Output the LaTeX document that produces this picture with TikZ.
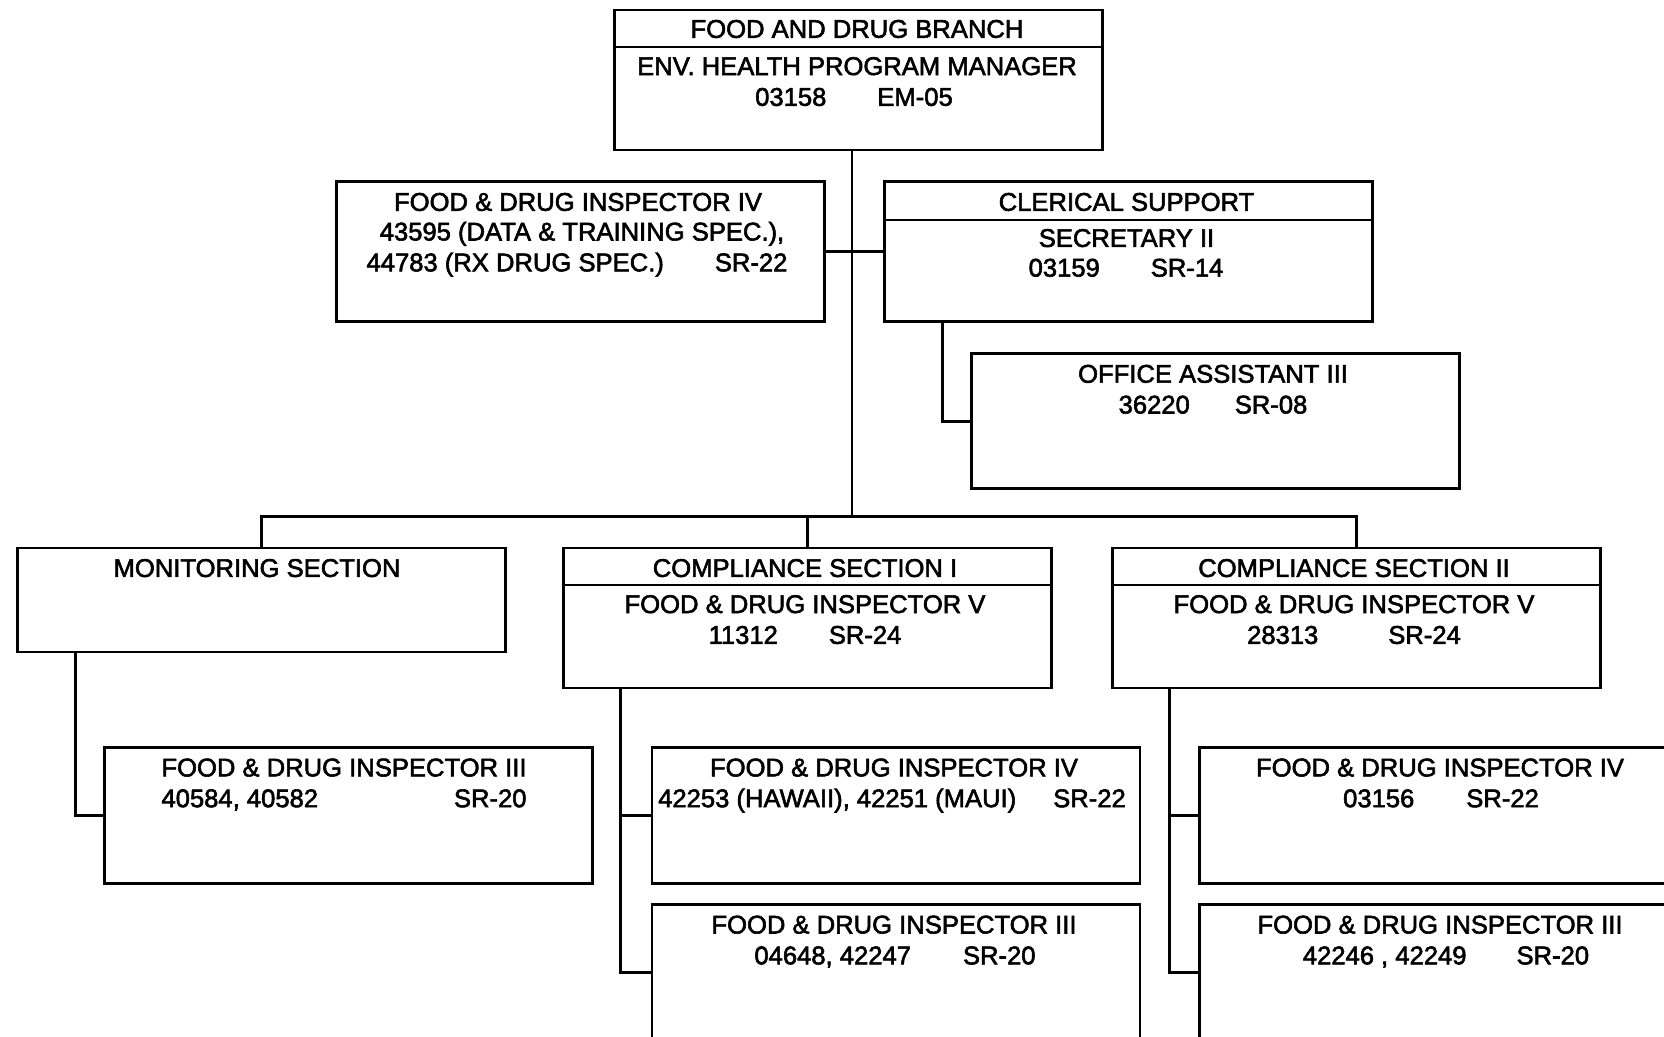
\documentclass[tikz,border=0pt]{standalone}
\usepackage{fontspec}
\setmainfont{Liberation Sans}[FakeBold=2.2]
\begin{document}
\begin{tikzpicture}[x=1pt,y=-1pt,
  box/.style={draw, line width=2.8pt, rectangle, inner sep=0pt, anchor=north west, minimum width=488pt},
  conn/.style={line width=2.8pt},
  divline/.style={line width=1.6pt},
  lbl/.style={anchor=base, inner sep=0pt, font=\fontsize{25.6}{30.6}\selectfont}]
\useasboundingbox (0,0) rectangle (1664,1036);
\fill[white] (0,0) rectangle (1664,1036);
\clip (0,0) rectangle (1664,1036);

% boxes
\node[box, minimum height=140pt] (top)    at (613,8.5) {};
\node[box, minimum height=140pt] (fdiA)   at (335.3,180.4) {};
\node[box, minimum height=140pt] (clerk)  at (883,180.4) {};
\node[box, minimum height=135pt] (office) at (970,352.3) {};
\node[box, minimum height=104pt] (mon)    at (15.9,546.5) {};
\node[box, minimum height=140pt] (cp1)    at (562.4,546.5) {};
\node[box, minimum height=140pt] (cp2)    at (1111,546.5) {};
\node[box, minimum height=136pt] (mon3)   at (102.9,746) {};
\node[box, minimum height=136pt] (c1a)    at (650.5,746) {};
\node[box, minimum height=136pt] (c1b)    at (650.5,903.1) {};
\node[box, minimum height=136pt] (c2a)    at (1198.1,746) {};
\node[box, minimum height=136pt] (c2b)    at (1198.1,903.1) {};

% header dividers
\draw[divline] ([yshift=-38.2pt]top.north west) -- ([yshift=-38.2pt]top.north east);
\draw[divline] ([yshift=-39.3pt]clerk.north west) -- ([yshift=-39.3pt]clerk.north east);
\draw[divline] ([yshift=-38.2pt]cp1.north west) -- ([yshift=-38.2pt]cp1.north east);
\draw[divline] ([yshift=-38.2pt]cp2.north west) -- ([yshift=-38.2pt]cp2.north east);

% connectors
\coordinate (bus) at (852,516.8);
\draw[conn] (top.south -| bus) -- (bus);
\draw[conn] (fdiA.east) -- (clerk.west);
\draw[conn] ([xshift=59.3pt]clerk.south west) |- (office.west);
\draw[conn] (mon.north) |- (bus) -| (cp2.north);
\draw[conn] (cp1.north) -- (cp1.north |- bus);
\draw[conn] ([xshift=59.4pt]mon.south west) |- (mon3.west);
\draw[conn] ([xshift=58.4pt]cp1.south west) |- (c1a.west);
\draw[conn] ([xshift=58.4pt]cp1.south west) |- (c1b.west);
\draw[conn] ([xshift=58.4pt]cp2.south west) |- (c2a.west);
\draw[conn] ([xshift=58.4pt]cp2.south west) |- (c2b.west);

% texts
\node[lbl] (topA) at (857,37.8) {FOOD AND DRUG BRANCH};
\node[lbl] (topB) at (857,75) {ENV. HEALTH PROGRAM MANAGER};
\node[lbl] (topC) at (854,105.8) {03158\hspace{51pt}EM-05};

\node[lbl] (fdiAa) at (578,210.8) {FOOD \& DRUG INSPECTOR IV};
\node[lbl] (fdiAb) at (582,240.5) {43595 (DATA \& TRAINING SPEC.),};
\node[lbl] (fdiAc) at (577,271.3) {44783 (RX DRUG SPEC.)\hspace{51pt}SR-22};

\node[lbl] (clerkA) at (1126.5,210.8) {CLERICAL SUPPORT};
\node[lbl] (clerkB) at (1126.5,246.9) {SECRETARY II};
\node[lbl] (clerkC) at (1126,276.6) {03159\hspace{51pt}SR-14};

\node[lbl] (officeA) at (1213,382.7) {OFFICE ASSISTANT III};
\node[lbl] (officeB) at (1213,413.5) {36220\hspace{45pt}SR-08};

\node[lbl] (monA) at (257,576.9) {MONITORING SECTION};

\node[lbl] (cp1A) at (805,576.9) {COMPLIANCE SECTION I};
\node[lbl] (cp1B) at (805,613) {FOOD \& DRUG INSPECTOR V};
\node[lbl] (cp1C) at (805,643.8) {11312\hspace{51pt}SR-24};

\node[lbl] (cp2A) at (1354,576.9) {COMPLIANCE SECTION II};
\node[lbl] (cp2B) at (1354,613) {FOOD \& DRUG INSPECTOR V};
\node[lbl] (cp2C) at (1354,643.8) {28313\hspace{70pt}SR-24};

\node[lbl] (mon3A) at (344,776.4) {FOOD \& DRUG INSPECTOR III};
\node[lbl] (mon3B) at (344,807.2) {\makebox[365pt]{40584, 40582\hfill SR-20}};

\node[lbl] (c1aA) at (894,776.4) {FOOD \& DRUG INSPECTOR IV};
\node[lbl] (c1aB) at (892,807.2) {42253 (HAWAII), 42251 (MAUI)\hspace{37pt}SR-22};

\node[lbl] (c1bA) at (894,933.5) {FOOD \& DRUG INSPECTOR III};
\node[lbl] (c1bB) at (895,964.3) {04648, 42247\hspace{52pt}SR-20};

\node[lbl] (c2aA) at (1440,776.4) {FOOD \& DRUG INSPECTOR IV};
\node[lbl] (c2aB) at (1441,807.2) {03156\hspace{52pt}SR-22};

\node[lbl] (c2bA) at (1440,933.5) {FOOD \& DRUG INSPECTOR III};
\node[lbl] (c2bB) at (1446,964.3) {42246 , 42249\hspace{50pt}SR-20};
\end{tikzpicture}
\end{document}
